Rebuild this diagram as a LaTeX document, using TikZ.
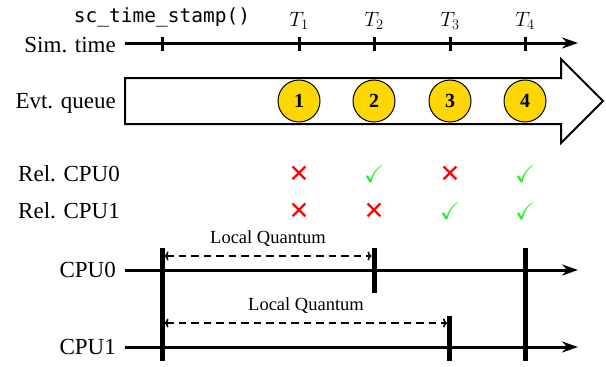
\documentclass[tikz,border=0pt]{standalone}
\usepackage{amssymb}
\usepackage{fontspec}
\setmainfont{Liberation Serif}
\setmonofont{DejaVu Sans Mono}
\newfontfamily\symfont{DejaVu Sans}
\usetikzlibrary{arrows.meta}
\definecolor{qgold}{HTML}{FFD700}
\definecolor{okgreen}{HTML}{22EE22}
\definecolor{badred}{HTML}{FF0000}
\begin{document}
\begin{tikzpicture}[x=1pt,y=-1pt,
  axis/.style={line width=3pt,-{Stealth[length=16pt,width=11pt]}},
  tickmark/.style={line width=3pt},
  cpubar/.style={line width=5pt},
  quant/.style={line width=1.7pt,dash pattern=on 7.5pt off 5pt,{To[length=4pt,width=9pt,line width=1.6pt]}-{To[length=4pt,width=9pt,line width=1.6pt]}},
  lbl/.style={font=\fontsize{23}{26}\selectfont,anchor=base east,inner sep=0pt},
  tlbl/.style={font=\fontsize{22}{24}\selectfont,anchor=base,inner sep=0pt},
  qlbl/.style={font=\fontsize{18.5}{22}\selectfont,anchor=base,inner sep=0pt},
  evtnode/.style={circle,draw,line width=1pt,fill=qgold,minimum size=42pt,inner sep=0pt,font=\fontsize{20}{22}\selectfont\bfseries},
  okmark/.style={text=okgreen,inner sep=0pt,font=\fontsize{24}{26}\selectfont},
  badmark/.style={text=badred,inner sep=0pt,font=\fontsize{25}{27}\selectfont\symfont},
  queue/.style={draw,line width=2pt,fill=white,line join=miter}
]
\useasboundingbox (0,0) rectangle (606,367);

% Labels on the left
\node[lbl] (simlbl) at (116,52) {Sim. time};
\node[lbl] (evtlbl) at (116,108) {Evt. queue};
\node[lbl] (rel0lbl) at (120,181) {Rel. CPU0};
\node[lbl] (rel1lbl) at (120,218) {Rel. CPU1};
\node[lbl] (cpu0lbl) at (116,277) {CPU0};
\node[lbl] (cpu1lbl) at (116,354) {CPU1};

% Sim time axis
\coordinate (simA) at (125,43);
\coordinate (simB) at (578,43);
\draw[axis] (simA) -- (simB);
\foreach \x/\n in {162/0,299/1,374/2,450/3,525/4}{
  \coordinate (tt\n) at (\x,36.5);
  \coordinate (tb\n) at (\x,50.5);
  \draw[tickmark] (tt\n) -- (tb\n);
}
\node[anchor=base,inner sep=0pt,font=\fontsize{19.5}{22}\selectfont\ttfamily] (stamp) at (162,22.5) {sc\_time\_stamp()};
\node[tlbl] (T1) at (299,26) {$T_1$};
\node[tlbl] (T2) at (374,26) {$T_2$};
\node[tlbl] (T3) at (450,26) {$T_3$};
\node[tlbl] (T4) at (525,26) {$T_4$};

% Event queue arrow
\draw[queue] (125,78) -- (561,78) -- (561,59) -- (603,101) -- (561,143) -- (561,124) -- (125,124) -- cycle;
\node[evtnode] (e1) at (299,101) {1};
\node[evtnode] (e2) at (374,101) {2};
\node[evtnode] (e3) at (450,101) {3};
\node[evtnode] (e4) at (525,101) {4};

% Release marks
\node[badmark] (r01) at (299,174) {✕};
\node[okmark]  (r02) at (374,174) {$\checkmark$};
\node[badmark] (r03) at (450,174) {✕};
\node[okmark]  (r04) at (525,174) {$\checkmark$};
\node[badmark] (r11) at (299,211) {✕};
\node[badmark] (r12) at (374,211) {✕};
\node[okmark]  (r13) at (450,211) {$\checkmark$};
\node[okmark]  (r14) at (525,211) {$\checkmark$};

% CPU timelines
\coordinate (c0A) at (125,270);
\coordinate (c0B) at (578,270);
\coordinate (c1A) at (125,347);
\coordinate (c1B) at (578,347);
\draw[axis] (c0A) -- (c0B);
\draw[axis] (c1A) -- (c1B);

\coordinate (b0t) at (162,248);
\coordinate (b0b) at (162,361);
\coordinate (b4t) at (525,248);
\coordinate (b4b) at (525,361);
\coordinate (b2t) at (374,248);
\coordinate (b2b) at (374,293);
\coordinate (b3t) at (449.5,316);
\coordinate (b3b) at (449.5,361);
\draw[cpubar] (b0t) -- (b0b);
\draw[cpubar] (b4t) -- (b4b);
\draw[cpubar] (b2t) -- (b2b);
\draw[cpubar] (b3t) -- (b3b);

% Local quantum arrows
\coordinate (q0A) at (164.5,256);
\coordinate (q0B) at (371.5,256);
\coordinate (q1A) at (164.5,323);
\coordinate (q1B) at (447,323);
\draw[quant] (q0A) -- (q0B);
\draw[quant] (q1A) -- (q1B);
\node[qlbl] (lq0) at (268,243) {Local Quantum};
\node[qlbl] (lq1) at (306,310) {Local Quantum};
\end{tikzpicture}
\end{document}
